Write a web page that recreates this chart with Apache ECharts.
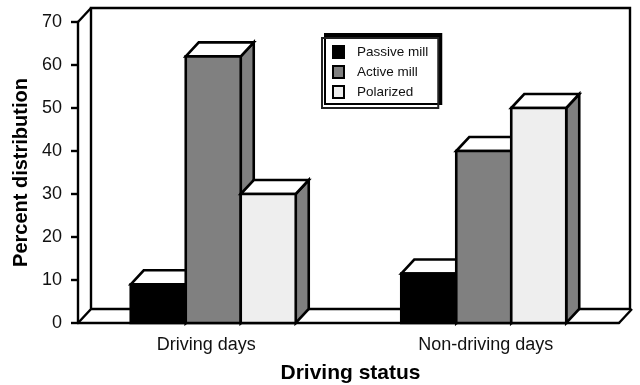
<!DOCTYPE html>
<html>
<head>
<meta charset="utf-8">
<script src="https://cdn.jsdelivr.net/npm/echarts@6/dist/echarts.min.js"></script>
<style>html,body{margin:0;padding:0;background:#fff}#c{width:640px;height:385px}</style>
</head>
<body>
<div id="c"></div>
<script>
var categories = ['Driving days', 'Non-driving days'];
var passiveMill = [9, 11.5];
var activeMill = [62, 40];
var polarized = [30, 50];
var seriesNames = ['Passive mill', 'Active mill', 'Polarized'];
var yTicks = {min: 0, max: 70, interval: 10};

var FONT = '"Liberation Sans", Arial, sans-serif';
var DX = 13, DY = -14, BAR_RATIO = 0.2033;

function barRender(offset) {
  return function (params, api) {
    var band = api.size([1, 0])[0];
    var w = band * BAR_RATIO;
    var base = api.coord([api.value(0), 0]);
    var top = api.coord([api.value(0), api.value(1)]);
    var x0 = base[0] + (offset - 0.5) * w, x1 = x0 + w;
    var y0 = base[1], y1 = top[1];
    var stroke = {stroke: '#000', lineWidth: 2.6, lineJoin: 'miter'};
    return {type: 'group', children: [
      {type: 'polygon', shape: {points: [[x1, y0], [x1, y1], [x1 + DX, y1 + DY], [x1 + DX, y0 + DY]]},
        style: Object.assign({fill: '#808080'}, stroke)},
      {type: 'polygon', shape: {points: [[x0, y1], [x0 + DX, y1 + DY], [x1 + DX, y1 + DY], [x1, y1]]},
        style: Object.assign({fill: '#fff'}, stroke)},
      {type: 'rect', shape: {x: x0, y: y1, width: w, height: y0 - y1},
        style: Object.assign({fill: api.visual('color')}, stroke)}
    ]};
  };
}

function wallRender(params) {
  var c = params.coordSys;
  var l = c.x, r = c.x + c.width, t = c.y, b = c.y + c.height;
  var s = {stroke: '#000', lineWidth: 2.4, fill: null};
  return {type: 'group', children: [
    {type: 'polyline', shape: {points: [[l, b], [l + DX, b + DY], [l + DX, t + DY], [r + 11, t + DY], [r + 11, b + DY], [l + DX, b + DY]]}, style: s},
    {type: 'line', shape: {x1: l, y1: t, x2: l + DX, y2: t + DY}, style: s},
    {type: 'line', shape: {x1: r, y1: b, x2: r + DX, y2: b + DY}, style: s}
  ]};
}

function toPairs(values) {
  return values.map(function (v, i) { return [i, v]; });
}
function barSeries(name, values, color, offset) {
  return {
    type: 'custom', name: name, z: 3, silent: true,
    renderItem: barRender(offset),
    encode: {x: 0, y: 1},
    data: toPairs(values),
    itemStyle: {color: color, borderColor: '#000', borderWidth: 2}
  };
}

var chart = echarts.init(document.getElementById('c'), null, {renderer: 'canvas'});
chart.setOption({
  animation: false,
  backgroundColor: '#fff',
  textStyle: {fontFamily: FONT},
  grid: {left: 78, right: 21, top: 22, bottom: 62, containLabel: false, outerBoundsMode: 'none'},
  legend: {
    left: 322, top: 38,
    orient: 'vertical',
    data: seriesNames.map(function (n) { return {name: n, icon: 'rect'}; }),
    padding: [7, 10, 9, 10],
    itemWidth: 11, itemHeight: 12, itemGap: 6,
    backgroundColor: '#fff',
    borderColor: '#222', borderWidth: 2,
    shadowColor: '#000', shadowBlur: 0, shadowOffsetX: 3, shadowOffsetY: -4,
    selectedMode: false,
    itemStyle: {borderColor: '#000', borderWidth: 2},
    textStyle: {fontFamily: FONT, fontSize: 13.5, color: '#111', padding: [0, 0, 0, 8]}
  },
  xAxis: {
    type: 'category',
    data: [
      {value: categories[0], textStyle: {padding: [0, 14, 0, 0]}},
      {value: categories[1], textStyle: {padding: [0, 0, 0, 4]}}
    ],
    axisLine: {lineStyle: {color: '#000', width: 2.4}},
    axisTick: {length: 6, lineStyle: {color: '#000', width: 2.4}},
    axisLabel: {color: '#111', fontSize: 18, fontFamily: FONT, margin: 13},
    name: 'Driving status', nameLocation: 'middle', nameGap: 40,
    nameTextStyle: {color: '#000', fontFamily: FONT, fontWeight: 'bold', fontSize: 21, padding: [0, 0, 0, 4]}
  },
  yAxis: {
    type: 'value', min: yTicks.min, max: yTicks.max, interval: yTicks.interval,
    splitLine: {show: false},
    axisLine: {show: true, lineStyle: {color: '#000', width: 2.4}},
    axisTick: {show: true, length: 7, lineStyle: {color: '#000', width: 2.4}},
    axisLabel: {color: '#111', fontSize: 18, fontFamily: FONT, margin: 16},
    name: 'Percent distribution', nameLocation: 'middle', nameGap: 42,
    nameTextStyle: {color: '#000', fontFamily: FONT, fontWeight: 'bold', fontSize: 20}
  },
  series: [
    {type: 'custom', name: 'wall', z: 1, silent: true, renderItem: wallRender, data: [[0, 0]], encode: {x: 0, y: 1}},
    barSeries(seriesNames[0], passiveMill, '#000', -1),
    barSeries(seriesNames[1], activeMill, '#808080', 0),
    barSeries(seriesNames[2], polarized, '#eeeeee', 1)
  ]
});
</script>
</body>
</html>
